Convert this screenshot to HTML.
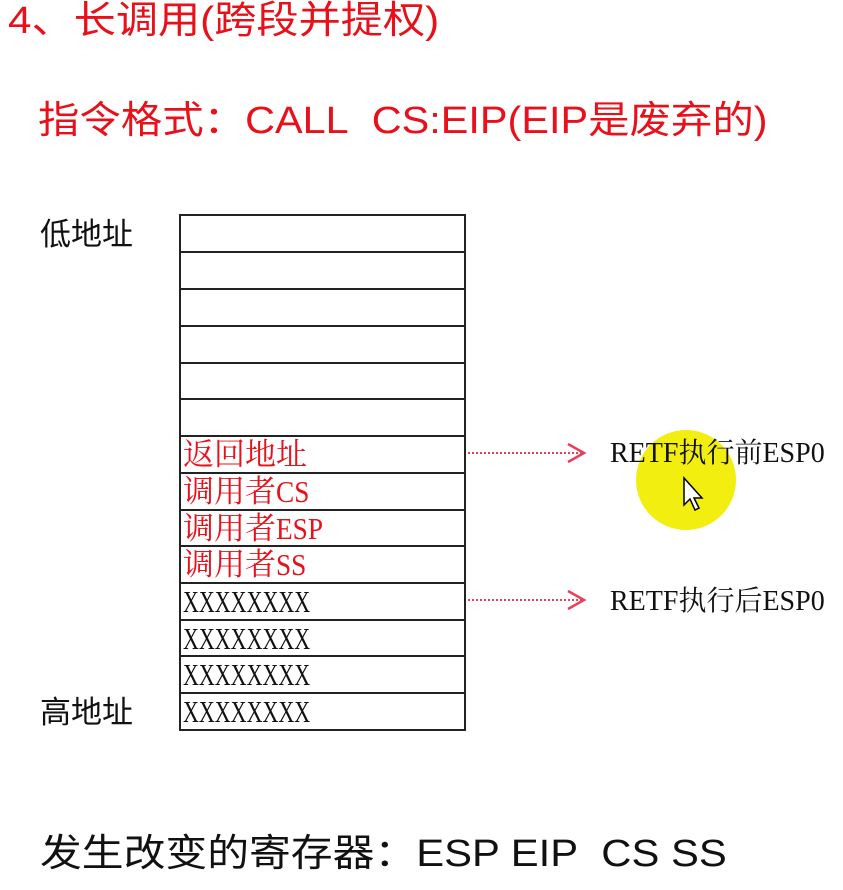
<!DOCTYPE html>
<html><head><meta charset="utf-8"><style>
body{margin:0;width:843px;height:890px;background:#fff;position:relative;overflow:hidden;font-family:"Liberation Sans","Noto Sans CJK SC",sans-serif}
.a{position:absolute;white-space:nowrap;line-height:1;transform-origin:left top}
.r{color:#e8101a}
.s{font-family:"Liberation Serif","Noto Serif CJK SC",serif;font-size:31px}
.s b{font-weight:normal;display:inline-block;transform:scaleX(.88);transform-origin:left center}
.s i{font-style:normal;display:inline-block;transform:scaleX(.71);transform-origin:left center}
.row{position:absolute;left:179px;width:283px;border:2px solid #222;border-bottom:none;height:35px;box-sizing:content-box}
</style></head><body>
<div class="a r" style="left:8px;top:2px;font-size:38px;transform:scaleX(1.11)">4、长调用(跨段并提权)</div>
<div class="a r" style="left:38px;top:102px;font-size:38px;transform:scaleX(1.09)">指令格式：CALL&nbsp; CS:EIP(EIP是废弃的)</div>
<div class="a" style="left:40px;top:219px;font-size:31px;color:#111">低地址</div>
<div class="a" style="left:40px;top:697px;font-size:31px;color:#111">高地址</div>
<div style="position:absolute;left:636px;top:430px;width:100px;height:100px;border-radius:50%;background:#f2ee10"></div>
<div id="t"></div>
<div style="position:absolute;left:179px;top:214px;width:283px;height:513px;border:2px solid #222"></div>
<script>
var ys=[214,251,288,325,362,398,435,472,509,545,582,619,655,692];
var lab=["","","","","","","返回地址","调用者<b>CS</b>","调用者<b>ESP</b>","调用者<b>SS</b>","<i>XXXXXXXX</i>","<i>XXXXXXXX</i>","<i>XXXXXXXX</i>","<i>XXXXXXXX</i>"];
var h="";
for(var i=0;i<14;i++){h+='<div class="row" style="top:'+ys[i]+'px"></div>';
if(lab[i])h+='<div class="a s" style="left:183px;top:'+(ys[i]+4)+'px;color:'+(i<10?'#e8101a':'#111')+'">'+lab[i]+'</div>';}
document.getElementById('t').innerHTML=h;
</script>
<svg style="position:absolute;left:0;top:0" width="843" height="890">
<line x1="468" y1="453" x2="582" y2="453" stroke="#e8405a" stroke-width="2" stroke-dasharray="2,2"/>
<polyline points="568,444 584,453 568,462" fill="none" stroke="#e8405a" stroke-width="2.5"/>
<line x1="468" y1="600" x2="582" y2="600" stroke="#e8405a" stroke-width="2" stroke-dasharray="2,2"/>
<polyline points="568,591 584,600 568,609" fill="none" stroke="#e8405a" stroke-width="2.5"/>
<path d="M684 478 L684 505 L690 499 L695 510 L699 508 L694 498 L702 498 Z" fill="#fff" stroke="#000" stroke-width="1.5"/>
</svg>
<div class="a s" style="left:610px;top:440px;font-size:28px;color:#111">RETF执行前ESP0</div>
<div class="a s" style="left:610px;top:588px;font-size:28px;color:#111">RETF执行后ESP0</div>
<div class="a" style="left:40px;top:835px;font-size:38px;color:#111;transform:scaleX(1.1)">发生改变的寄存器：ESP EIP&nbsp; CS SS</div>
</body></html>
